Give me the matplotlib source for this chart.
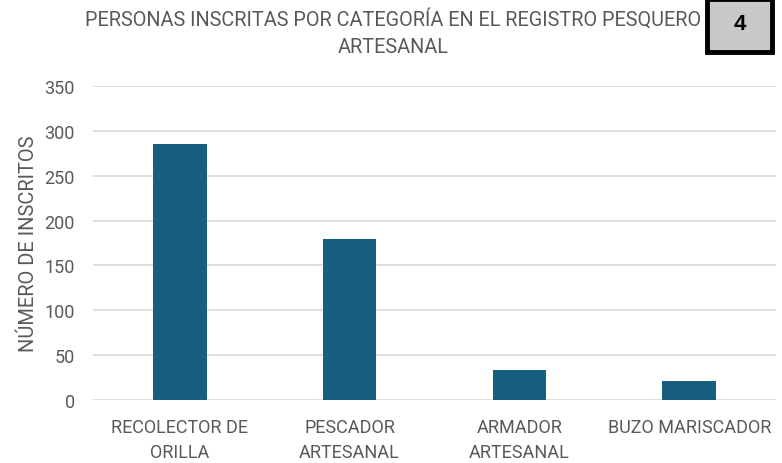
import matplotlib
matplotlib.use("Agg")
import matplotlib.pyplot as plt
from matplotlib.patches import Rectangle

categories = ["RECOLECTOR DE\nORILLA", "PESCADOR\nARTESANAL", "ARMADOR\nARTESANAL", "BUZO MARISCADOR"]
values = [285, 180, 33, 21]
yticks = [0, 50, 100, 150, 200, 250, 300, 350]

plt.rcParams['font.family'] = ["Roboto", "DejaVu Sans"]

grey = "#595959"
fig = plt.figure(figsize=(7.82, 4.64), dpi=100)
ax = fig.add_axes([93/782, 63/464, 683/782, 314/464])
x = list(range(len(categories)))
ax.bar(x, values, width=0.317, color="#185E7E", zorder=3)
ax.set_xlim(-0.51, len(categories) - 0.49)
ax.set_ylim(0, 350)
ax.set_yticks(yticks)
ax.set_xticks(x)
ax.set_xticklabels(categories, fontsize=13, color=grey, linespacing=1.5)
ax.tick_params(axis='y', labelsize=13, labelcolor=grey, length=0, pad=13)
ax.tick_params(axis='x', length=0, pad=13)
ax.grid(axis='y', color="#d9d9d9", linewidth=1.2, zorder=0)
for s in ax.spines.values():
    s.set_visible(False)
ax.set_ylabel("NÚMERO DE INSCRITOS", fontsize=14.5, color=grey, labelpad=5)

fig.text(0.503, 0.98, "PERSONAS INSCRITAS POR CATEGORÍA EN EL REGISTRO PESQUERO\nARTESANAL",
         ha='center', va='top', fontsize=14.3, color=grey, linespacing=1.5)

fig.patches.append(Rectangle((707/782, 1 - 53/464), 65/782, 53/464, transform=fig.transFigure,
                             facecolor="#c8c8c8", edgecolor="black", linewidth=3.5, zorder=5))
fig.text(739.5/782, 1 - 24/464, "4", ha='center', va='center', fontsize=16, fontweight='bold',
         color="black", family=["Liberation Sans", "DejaVu Sans"], zorder=6)

fig.savefig("out.png", dpi=100)
